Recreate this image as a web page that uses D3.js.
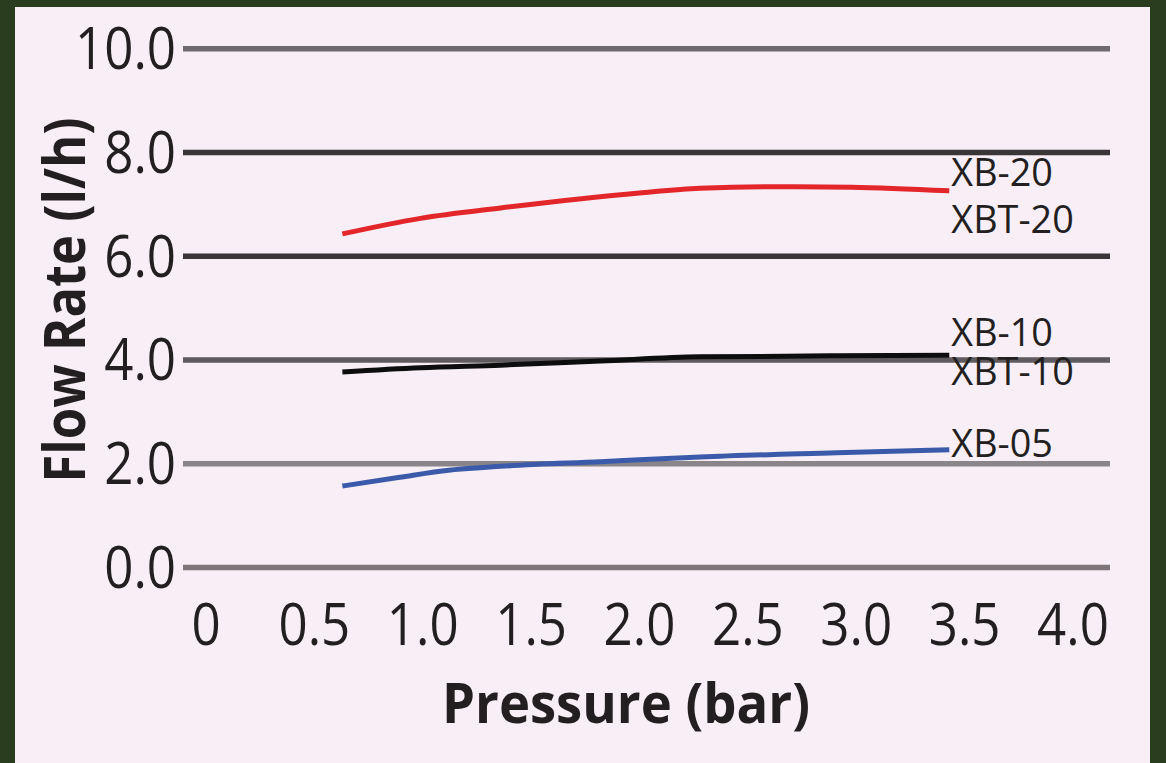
<!DOCTYPE html>
<html>
<head>
<meta charset="utf-8">
<script src="https://cdn.jsdelivr.net/npm/d3@7"></script>
<style>
  html, body { margin: 0; padding: 0; background: #2b3d1f; }
  svg { display: block; }
</style>
</head>
<body>
<svg id="chart" width="1166" height="763"></svg>
<script>
// ---- data ----
const xTicks = [0, 0.5, 1.0, 1.5, 2.0, 2.5, 3.0, 3.5, 4.0];
const xTickLabels = ["0", "0.5", "1.0", "1.5", "2.0", "2.5", "3.0", "3.5", "4.0"];
const yTicks = [0, 2, 4, 6, 8, 10];
const yTickLabels = ["0.0", "2.0", "4.0", "6.0", "8.0", "10.0"];

const seriesNames = ["XB-20", "XB-10", "XB-05"];
const seriesLabels = [["XB-20", "XBT-20"], ["XB-10", "XBT-10"], ["XB-05"]];

const xb20 = [[0.62, 6.43], [0.98, 6.73], [1.35, 6.93], [1.99, 7.22], [2.27, 7.31], [2.64, 7.34], [2.97, 7.33], [3.42, 7.26]];
const xb10 = [[0.62, 3.77], [0.98, 3.85], [1.35, 3.90], [1.81, 3.98], [2.27, 4.06], [2.90, 4.08], [3.42, 4.09]];
const xb05 = [[0.62, 1.57], [0.885, 1.74], [1.1, 1.87], [1.35, 1.95], [1.81, 2.04], [2.27, 2.13], [2.90, 2.21], [3.42, 2.27]];

const xTitle = "Pressure (bar)";
const yTitle = "Flow Rate (l/h)";

// ---- styles / layout ----
const seriesData = [xb20, xb10, xb05];
const seriesColors = ["#e3262a", "#0d0d0d", "#3b5aa9"];
const labelOffsets = [[-5, 42], [-9, 30], [7]];
const gridColors = ["#7c7679", "#8a8588", "#5f5a5d", "#3a3637", "#3a3637", "#6e696c"];
const font = "'Open Sans', 'Noto Sans', sans-serif";
const textColor = "#231f20";

const svg = d3.select("#chart");

svg.append("rect").attr("x", 15).attr("y", 7).attr("width", 1135).attr("height", 756).attr("fill", "#f7eef6");

const x = d3.scaleLinear().domain([0, 4]).range([208, 1075]);
const y = d3.scaleLinear().domain([0, 10]).range([567.5, 48.7]);

// gridlines
svg.append("g").selectAll("line").data(yTicks).join("line")
  .attr("x1", 183).attr("x2", 1110)
  .attr("y1", d => y(d)).attr("y2", d => y(d))
  .attr("stroke", (d, i) => gridColors[i]).attr("stroke-width", 5.5);

// y tick labels
svg.append("g").selectAll("text").data(yTicks).join("text")
  .attr("transform", d => `translate(176,${y(d) + 20.5}) scale(0.88,1)`)
  .attr("text-anchor", "end")
  .attr("font-family", font).attr("font-size", 58).attr("font-weight", 500).attr("fill", textColor)
  .text((d, i) => yTickLabels[i]);

// x tick labels
svg.append("g").selectAll("text").data(xTicks).join("text")
  .attr("transform", d => `translate(${x(d) - 2},645) scale(0.88,1)`)
  .attr("text-anchor", "middle")
  .attr("font-family", font).attr("font-size", 58).attr("font-weight", 500).attr("fill", textColor)
  .text((d, i) => xTickLabels[i]);

// series lines
const line = d3.line().x(d => x(d[0])).y(d => y(d[1])).curve(d3.curveMonotoneX);
svg.append("g").selectAll("path").data(seriesData).join("path")
  .attr("d", line)
  .attr("fill", "none")
  .attr("stroke", (d, i) => seriesColors[i])
  .attr("stroke-width", 5);

// series labels
seriesData.forEach((data, i) => {
  const last = data[data.length - 1];
  seriesLabels[i].forEach((lab, j) => {
    svg.append("text")
      .attr("transform", `translate(${x(last[0]) + 2},${y(last[1]) + labelOffsets[i][j]}) scale(0.97,1)`)
      .attr("font-family", font).attr("font-size", 39).attr("fill", textColor)
      .text(lab);
  });
});

// axis titles
svg.append("text")
  .attr("x", 626).attr("y", 723)
  .attr("text-anchor", "middle")
  .attr("font-family", font).attr("font-weight", "bold").attr("font-size", 56).attr("fill", textColor)
  .attr("textLength", 368).attr("lengthAdjust", "spacingAndGlyphs")
  .text(xTitle);

svg.append("text")
  .attr("transform", "translate(85,300) rotate(-90)")
  .attr("text-anchor", "middle")
  .attr("font-family", font).attr("font-weight", "bold").attr("font-size", 57).attr("fill", textColor)
  .attr("textLength", 365).attr("lengthAdjust", "spacingAndGlyphs")
  .text(yTitle);
</script>
</body>
</html>
